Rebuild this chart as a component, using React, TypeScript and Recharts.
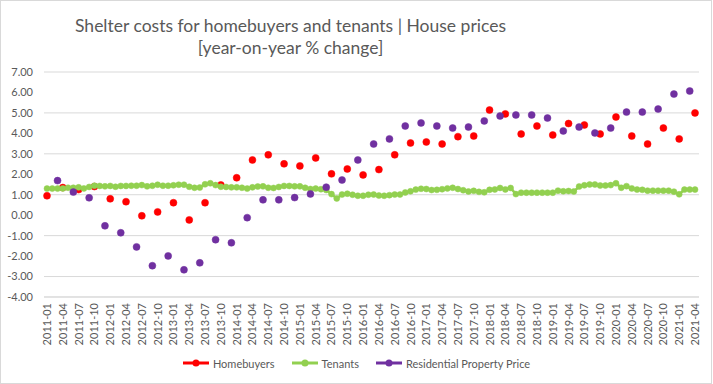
import { CartesianGrid, Legend, Line, LineChart, XAxis, YAxis } from "recharts";

const RED = "#ff0000";
const GREEN = "#92d050";
const PURPLE = "#7030a0";
const TEXT = "#595959";
const GRID = "#d9d9d9";

// monthly categories 2011-01 .. 2021-04
const months: string[] = [];
for (let y = 2011; y <= 2021; y++) {
  for (let m = 1; m <= 12; m++) {
    if (y === 2021 && m > 4) break;
    months.push(`${y}-${String(m).padStart(2, "0")}`);
  }
}

// quarterly, Jan/Apr/Jul/Oct
const homebuyers = [
  0.95, 1.35, 1.25, 1.4, 0.8, 0.66, -0.03, 0.16, 0.61, -0.23, 0.61, 1.48,
  1.83, 2.7, 2.95, 2.51, 2.41, 2.8, 2.02, 2.26, 1.97, 2.23, 2.95, 3.53,
  3.58, 3.48, 3.84, 3.87, 5.14, 4.95, 3.97, 4.36, 3.92, 4.48, 4.41, 3.97,
  4.8, 3.87, 3.48, 4.26, 3.73, 5.0,
];

// monthly
const tenants = [
  1.3, 1.3, 1.3, 1.31, 1.34, 1.34, 1.36, 1.31, 1.38, 1.44, 1.43, 1.41,
  1.43, 1.39, 1.43, 1.43, 1.44, 1.44, 1.47, 1.41, 1.44, 1.49, 1.44, 1.44,
  1.46, 1.49, 1.49, 1.39, 1.34, 1.35, 1.51, 1.56, 1.47, 1.39, 1.38, 1.36,
  1.36, 1.34, 1.3, 1.36, 1.4, 1.41, 1.34, 1.33, 1.38, 1.43, 1.43, 1.41,
  1.41, 1.34, 1.28, 1.3, 1.27, 1.23, 1.03, 0.82, 1.01, 1.05, 1.0, 0.95,
  0.95, 1.0, 1.01, 0.96, 0.95, 0.98, 1.01, 1.01, 1.11, 1.17, 1.25, 1.29,
  1.28, 1.23, 1.24, 1.27, 1.31, 1.34, 1.28, 1.22, 1.16, 1.19, 1.14, 1.12,
  1.24, 1.26, 1.33, 1.26, 1.33, 1.03, 1.1, 1.1, 1.1, 1.1, 1.1, 1.1,
  1.1, 1.2, 1.17, 1.18, 1.16, 1.4, 1.46, 1.5, 1.5, 1.45, 1.45, 1.47,
  1.56, 1.34, 1.42, 1.31, 1.25, 1.24, 1.2, 1.2, 1.2, 1.2, 1.2, 1.15,
  1.02, 1.25, 1.25, 1.25,
];

// quarterly, Mar/Jun/Sep/Dec
const propertyPrice = [
  1.69, 1.13, 0.85, -0.52, -0.86, -1.55, -2.47, -1.99, -2.67, -2.33, -1.2,
  -1.35, -0.12, 0.75, 0.75, 0.86, 1.04, 1.37, 1.72, 2.7, 3.48, 3.73, 4.36,
  4.51, 4.36, 4.26, 4.31, 4.61, 4.85, 4.9, 4.9, 4.75, 4.12, 4.31, 4.02,
  4.26, 5.04, 5.04, 5.19, 5.92, 6.07,
];

const yTicks = [-4, -3, -2, -1, 0, 1, 2, 3, 4, 5, 6, 7];

const data = months.map((month, i) => ({
  month,
  homebuyers: i % 3 === 0 ? homebuyers[i / 3] : null,
  tenants: tenants[i],
  propertyPrice: i % 3 === 2 ? propertyPrice[(i - 2) / 3] : null,
}));

const legendItems = [
  { name: "Homebuyers", color: RED },
  { name: "Tenants", color: GREEN },
  { name: "Residential Property Price", color: PURPLE },
];

const FONT = "Lato, 'Open Sans', sans-serif";

function MonthTick({ x, y, payload }: any) {
  return (
    <g transform={`translate(${x},${y})`}>
      <text
        x={0}
        y={0}
        dy={4}
        textAnchor="end"
        transform="rotate(-90)"
        fill={TEXT}
        fontSize={11}
        fontFamily={FONT}
      >
        {payload.value}
      </text>
    </g>
  );
}

function ChartLegend() {
  return (
    <div
      style={{
        width: 713,
        height: 30,
        display: "flex",
        justifyContent: "center",
        alignItems: "center",
        gap: 17,
        fontFamily: FONT,
        fontSize: 11,
        color: TEXT,
      }}
    >
      {legendItems.map((item) => (
        <div key={item.name} style={{ display: "flex", alignItems: "center" }}>
          <svg width={26} height={10} style={{ marginRight: 4 }}>
            <line x1={0} y1={5} x2={26} y2={5} stroke={item.color} strokeWidth={3} />
            <circle cx={13} cy={5} r={3.5} fill={item.color} />
          </svg>
          <span>{item.name}</span>
        </div>
      ))}
    </div>
  );
}

export default function App() {
  return (
    <div
      style={{
        position: "absolute",
        left: 0,
        top: 0,
        width: 713,
        height: 384,
        background: "#fff",
        fontFamily: FONT,
      }}
    >
      <div
        style={{
          position: "absolute",
          left: 0,
          top: 0,
          width: 712,
          height: 384,
          border: `1px solid ${GRID}`,
          boxSizing: "border-box",
          pointerEvents: "none",
        }}
      />
      <div
        style={{
          position: "absolute",
          left: 0,
          top: 15.5,
          width: 581,
          textAlign: "center",
          fontSize: 17.5,
          lineHeight: "20px",
          color: TEXT,
          whiteSpace: "nowrap",
        }}
      >
        Shelter costs for homebuyers and tenants | House prices
      </div>
      <div
        style={{
          position: "absolute",
          left: 0,
          top: 38,
          width: 581,
          textAlign: "center",
          fontSize: 17.5,
          lineHeight: "20px",
          color: TEXT,
          whiteSpace: "nowrap",
        }}
      >
        [year-on-year % change]
      </div>
      <LineChart
        width={713}
        height={384}
        data={data}
        margin={{ top: 72, right: 14, left: 0, bottom: 0 }}
      >
        <CartesianGrid vertical={false} stroke={GRID} />
        <XAxis
          dataKey="month"
          interval={2}
          height={57}
          tickSize={4}
          tickLine={false}
          axisLine={{ stroke: GRID }}
          padding={{ left: 3, right: 4 }}
          tick={<MonthTick />}
        />
        <YAxis
          width={44}
          domain={[-4, 7]}
          ticks={yTicks}
          tickLine={false}
          axisLine={false}
          tickSize={6}
          tickMargin={5}
          tickFormatter={(v: number) => v.toFixed(2)}
          tick={{ fill: TEXT, fontSize: 11, fontFamily: FONT }}
        />
        <Legend
          verticalAlign="bottom"
          height={30}
          wrapperStyle={{ left: 0, bottom: 6, width: 713 }}
          content={<ChartLegend />}
        />
        <Line
          dataKey="homebuyers"
          name="Homebuyers"
          stroke="none"
          dot={{ r: 3.5, fill: RED, stroke: RED, strokeWidth: 0.5 }}
          activeDot={false}
          isAnimationActive={false}
        />
        <Line
          dataKey="tenants"
          name="Tenants"
          stroke={GREEN}
          strokeWidth={2.5}
          dot={{ r: 3, fill: GREEN, stroke: GREEN, strokeWidth: 0.5 }}
          activeDot={false}
          isAnimationActive={false}
        />
        <Line
          dataKey="propertyPrice"
          name="Residential Property Price"
          stroke="none"
          dot={{ r: 3.5, fill: PURPLE, stroke: PURPLE, strokeWidth: 0.5 }}
          activeDot={false}
          isAnimationActive={false}
        />
      </LineChart>
    </div>
  );
}
